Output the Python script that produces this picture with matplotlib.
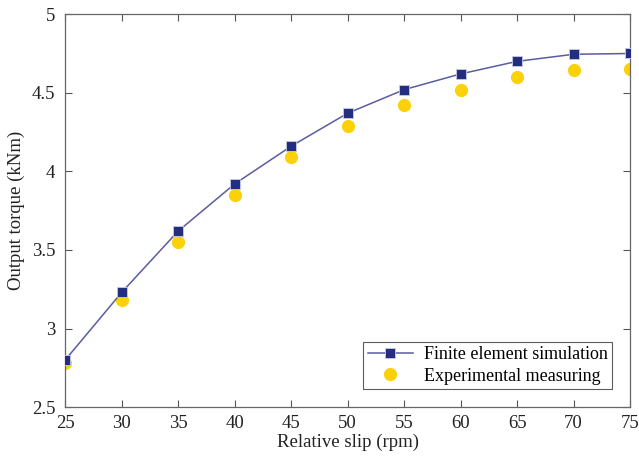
import matplotlib.pyplot as plt
from matplotlib.ticker import FuncFormatter

plt.rcParams['font.family'] = ['Liberation Serif', 'DejaVu Serif']

# Relative slip (rpm) and output torque (kNm)
slip = [25, 30, 35, 40, 45, 50, 55, 60, 65, 70, 75]
torque_fem = [2.80, 3.23, 3.62, 3.92, 4.16, 4.37, 4.52, 4.62, 4.70, 4.745, 4.75]
torque_exp = [2.78, 3.18, 3.55, 3.85, 4.09, 4.29, 4.42, 4.52, 4.60, 4.645, 4.65]

fig = plt.figure(figsize=(6.39, 4.58), dpi=100)
ax = fig.add_axes([0.102, 0.111, 0.884, 0.858])

# Simulation curve with square markers
ax.plot(slip, torque_fem, color='#5a5ca0', linewidth=1.1, marker='s', markersize=7,
        markerfacecolor='#232f7e', markeredgecolor='#c8cbe6', markeredgewidth=0.6,
        label='Finite element simulation', zorder=3)

# Measured values
ax.plot(slip, torque_exp, linestyle='none', marker='o', markersize=8.5,
        markerfacecolor='#fbd20a', markeredgecolor='#fbd20a',
        label='Experimental measuring', zorder=2)

ax.set_xlim(25, 75)
ax.set_ylim(2.5, 5)
ax.set_xticks(range(25, 80, 5))
ax.set_yticks([2.5, 3, 3.5, 4, 4.5, 5])
ax.yaxis.set_major_formatter(FuncFormatter(lambda v, p: f'{v:g}'))

ax.tick_params(direction='in', top=True, right=True, length=5, width=0.8,
               color='#555555', labelsize=13.5, labelcolor='#222222')
ax.tick_params(axis='x', pad=6)
ax.tick_params(axis='y', pad=7)
for s in ax.spines.values():
    s.set_color('#666666')
    s.set_linewidth(0.9)

ax.set_xlabel('Relative slip (rpm)', fontsize=13.5, color='#222222', labelpad=1)
ax.set_ylabel('Output torque (kNm)', fontsize=13.5, color='#222222', labelpad=5)

leg = ax.legend(loc='lower right', fontsize=13, frameon=True, fancybox=False,
                edgecolor='#333333', borderaxespad=1.0, handlelength=2.5,
                borderpad=0.25, labelspacing=0.25, handletextpad=0.6)
leg.get_frame().set_linewidth(0.8)

fig.savefig('out.png', dpi=100)
